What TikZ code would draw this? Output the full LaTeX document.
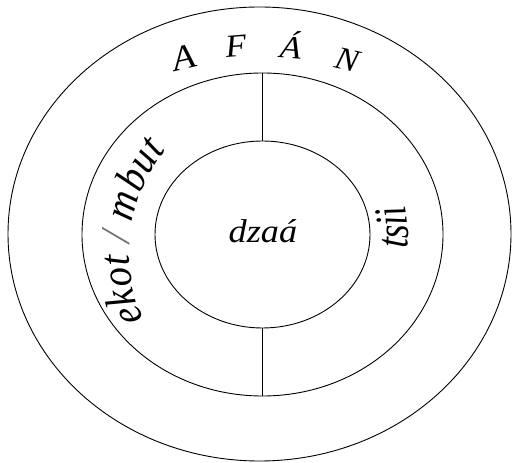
\documentclass[tikz,border=0pt]{standalone}
\usepackage{fontspec}
\setmainfont{Liberation Serif}
\usetikzlibrary{shapes.geometric}
\begin{document}
\begin{tikzpicture}[x=1pt,y=1pt,
  ring/.style={draw, ellipse, inner sep=0pt, line width=0.9pt},
  divider/.style={line width=0.9pt},
  lefttxt/.style={anchor=base, inner sep=0pt, font=\fontsize{39}{41}\selectfont\itshape},
  righttxt/.style={anchor=base, inner sep=0pt, font=\fontsize{35}{38}\selectfont\itshape},
  toptxt/.style={anchor=base, inner sep=0pt, font=\fontsize{32}{34}\selectfont\itshape, xscale=1.08},
  centertxt/.style={anchor=base, inner sep=0pt, font=\fontsize{33}{36}\selectfont\itshape, xscale=1.1}
]
\useasboundingbox (0,0) rectangle (514,463);
% rings
\node[ring, minimum width=503pt, minimum height=454pt] (ringout) at (259.5,229) {};
\node[ring, minimum width=361pt, minimum height=323pt] (ringmid) at (262.5,228.5) {};
\node[ring, minimum width=215pt, minimum height=187pt] (ringin) at (262.5,228.5) {};
\draw[divider] (ringmid.north) -- (ringin.north);
\draw[divider] (ringin.south) -- (ringmid.south);
% centre
\node[centertxt] (dzaa) at (263,220) {dzaá};
% top: A F A N
\node[toptxt, font=\fontsize{35}{37}\selectfont\itshape, rotate=14] (tA) at (187,394) {A};
\node[toptxt, rotate=5] (tF) at (237,406) {F};
\node[toptxt, rotate=-5] (tAa) at (290,405) {Á};
\node[toptxt, rotate=-14] (tN) at (345,393) {N};
% left: ekot / mbut
\node[lefttxt, rotate=110.9, yscale=1.1] (l1) at ([shift={(200.9:164)}]293.2,209.6) {e};
\node[lefttxt, rotate=104.6, yscale=1.1] (l2) at ([shift={(194.6:164)}]293.2,209.6) {k};
\node[lefttxt, rotate=97.8, yscale=1.1] (l3) at ([shift={(187.8:164)}]293.2,209.6) {o};
\node[lefttxt, rotate=92.3, yscale=1.1] (l4) at ([shift={(182.3:164)}]293.2,209.6) {t};
\node[lefttxt, rotate=84.8, yscale=1.1, text=black!55] (l5) at ([shift={(174.8:164)}]293.2,209.6) {/};
\node[lefttxt, rotate=74.1, yscale=1.1] (l6) at ([shift={(164.1:164)}]293.2,209.6) {m};
\node[lefttxt, rotate=65.4, yscale=1.1] (l7) at ([shift={(155.4:164)}]293.2,209.6) {b};
\node[lefttxt, rotate=58.3, yscale=1.1] (l8) at ([shift={(148.3:164)}]293.2,209.6) {u};
\node[lefttxt, rotate=52.7, yscale=1.1] (l9) at ([shift={(142.7:164)}]293.2,209.6) {t};
% right: tsii
\node[righttxt, rotate=86.4, yscale=1.3] (r1) at ([shift={(-3.6:146)}]262,229) {t};
\node[righttxt, rotate=91.0, yscale=1.3] (r2) at ([shift={(1.0:146)}]262,229) {s};
\node[righttxt, rotate=95.6, yscale=1.3] (r3) at ([shift={(5.6:146)}]262,229) {i};
\node[righttxt, rotate=99.5, yscale=1.3] (r4) at ([shift={(9.5:146)}]262,229) {i};
\end{tikzpicture}
\end{document}
